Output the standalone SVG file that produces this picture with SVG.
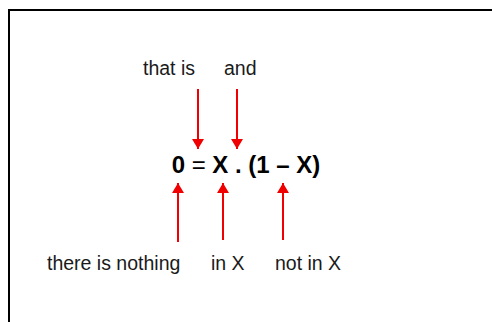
<svg xmlns="http://www.w3.org/2000/svg" width="492" height="322" viewBox="0 0 492 322">
<style>
.lbl{font-family:"Liberation Sans",Arial,sans-serif;font-size:19.5px;fill:#1a1a1a}
.eq{font-family:"Liberation Sans",Arial,sans-serif;font-size:24px;font-weight:bold;fill:#000}
.arr{stroke:#f00000;stroke-width:2;fill:none;marker-end:url(#ah)}
</style>
<defs>
<marker id="ah" markerUnits="userSpaceOnUse" markerWidth="12" markerHeight="12" refX="10" refY="6" orient="auto">
<path d="M0,0 L10,6 L0,12 Z" fill="#f00000"/>
</marker>
</defs>
<rect width="492" height="322" fill="#fff"/>
<path d="M9,322 V10 H492" fill="none" stroke="#000" stroke-width="2"/>
<g id="eq"><text class="eq" x="246" y="173" text-anchor="middle">0 <tspan font-weight="normal">=</tspan> X . (1 – X)</text></g>
<g id="that-is"><text class="lbl" x="143" y="75">that is</text></g>
<g id="and"><text class="lbl" x="224" y="75">and</text></g>
<g id="there-is-nothing"><text class="lbl" x="47" y="270">there is nothing</text></g>
<g id="in-x"><text class="lbl" x="211" y="270">in X</text></g>
<g id="not-in-x"><text class="lbl" x="275" y="270">not in X</text></g>
<g id="connectors">
<line class="arr" x1="198" y1="89" x2="198" y2="149"/>
<line class="arr" x1="237" y1="89" x2="237" y2="149"/>
<line class="arr" x1="178" y1="242" x2="178" y2="183"/>
<line class="arr" x1="223" y1="240" x2="223" y2="183"/>
<line class="arr" x1="283" y1="240" x2="283" y2="183"/>
</g>
</svg>
